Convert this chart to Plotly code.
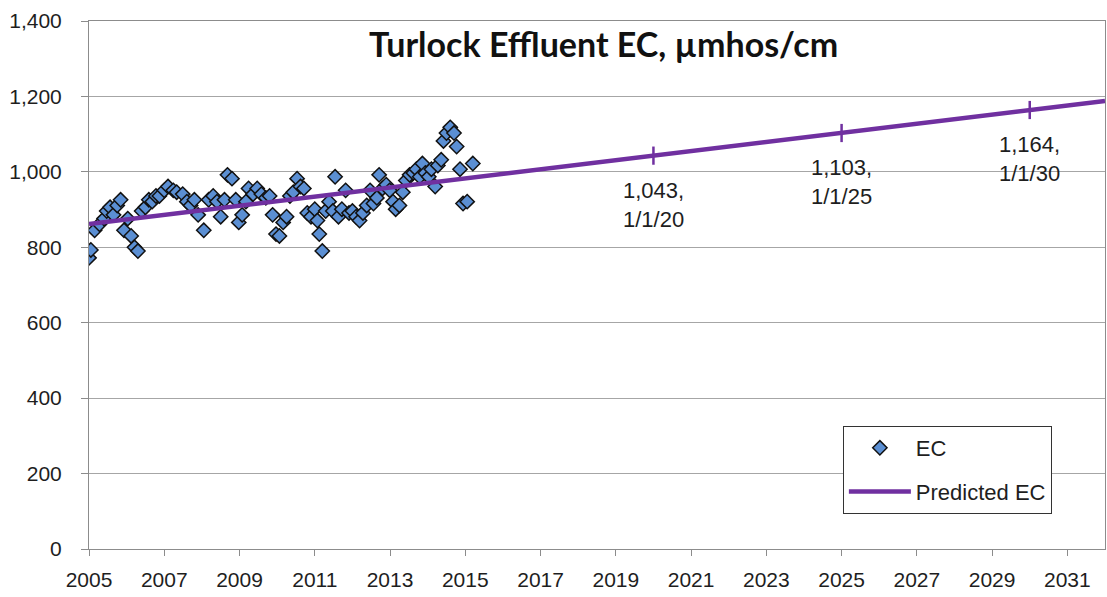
import plotly.graph_objects as go

# Observed EC (decimal year, µmhos/cm)
ec_years = [2005.0, 2005.05, 2005.15, 2005.28, 2005.4, 2005.47, 2005.56, 2005.65, 2005.75, 2005.84,
            2005.93, 2006.03, 2006.12, 2006.21, 2006.3, 2006.4, 2006.5, 2006.59, 2006.68, 2006.78,
            2006.87, 2007.0, 2007.1, 2007.24, 2007.33, 2007.49, 2007.6, 2007.7, 2007.8, 2007.9,
            2008.05, 2008.18, 2008.3, 2008.4, 2008.5, 2008.6, 2008.68, 2008.8, 2008.9, 2008.98,
            2009.07, 2009.17, 2009.24, 2009.36, 2009.47, 2009.58, 2009.7, 2009.8, 2009.88, 2009.97,
            2010.06, 2010.16, 2010.25, 2010.34, 2010.43, 2010.53, 2010.62, 2010.71, 2010.8, 2010.9,
            2011.0, 2011.07, 2011.12, 2011.2, 2011.29, 2011.38, 2011.48, 2011.54, 2011.63, 2011.72,
            2011.82, 2011.91, 2012.0, 2012.1, 2012.19, 2012.28, 2012.38, 2012.47, 2012.56, 2012.65,
            2012.71, 2012.8, 2012.9, 2012.99, 2013.08, 2013.15, 2013.25, 2013.34, 2013.42, 2013.52,
            2013.62, 2013.7, 2013.79, 2013.86, 2013.94, 2014.03, 2014.1, 2014.2, 2014.27, 2014.36,
            2014.42, 2014.5, 2014.6, 2014.7, 2014.77, 2014.86, 2014.94, 2015.05, 2015.2]
ec_values = [772, 793, 845, 861, 876, 896, 906, 886, 911, 926,
             845, 876, 830, 800, 790, 896, 906, 926, 921, 936,
             936, 951, 961, 951, 946, 941, 921, 911, 926, 886,
             845, 926, 936, 921, 881, 926, 992, 982, 926, 866,
             886, 921, 956, 941, 956, 941, 931, 936, 886, 835,
             830, 866, 881, 936, 946, 982, 961, 956, 891, 881,
             901, 871, 835, 790, 896, 921, 896, 987, 881, 901,
             951, 891, 896, 881, 871, 891, 911, 951, 916, 931,
             992, 956, 966, 951, 921, 901, 911, 946, 977, 992,
             997, 1007, 987, 1022, 997, 987, 1007, 961, 1017, 1032,
             1082, 1103, 1118, 1103, 1067, 1007, 916, 921, 1022]

# Predicted EC trend
pred_years = [2005, 2020, 2025, 2030, 2032]
pred_values = [862, 1043, 1103, 1164, 1188]
label_years = [2020, 2025, 2030]
label_values = [1043, 1103, 1164]

x_ticks = list(range(2005, 2032, 2))
y_ticks = [0, 200, 400, 600, 800, 1000, 1200, 1400]

PURPLE = "#7030A0"
BLUE = "#5B8FD3"
GRID = "#A6A6A6"
AXIS = "#8C8C8C"
FONT = "Liberation Sans, Arial, sans-serif"
TXT = "#1E1E1E"

fig = go.Figure()
fig.add_trace(go.Scatter(
    x=ec_years, y=ec_values, mode="markers", name="EC", legendgroup="a",
    marker=dict(symbol="diamond", size=11, color=BLUE, line=dict(color="#111111", width=1.5)),
))
fig.add_trace(go.Scatter(
    x=pred_years, y=pred_values, mode="lines", name="Predicted EC", legendgroup="b",
    line=dict(color=PURPLE, width=4.5),
))
fig.add_trace(go.Scatter(
    x=label_years, y=label_values, mode="markers", showlegend=False,
    marker=dict(symbol="line-ns", size=13, line=dict(color=PURPLE, width=2.5)),
))

for yr, v in zip(label_years, label_values):
    fig.add_annotation(
        x=yr, y=v, xref="x", yref="y", showarrow=False,
        text=f"{v:,},<br>1/1/{yr % 100:02d}", yanchor="top", xanchor="center",
        yshift=-20, font=dict(family=FONT, size=22, color=TXT), align="center",
    )

fig.add_annotation(
    x=0.506, y=0.958, xref="paper", yref="paper", showarrow=False,
    text="<b>Turlock Effluent EC, µmhos/cm</b>",
    font=dict(family="Lato, Open Sans, sans-serif", size=34, color="#111111"),
    xanchor="center", yanchor="middle",
)

fig.update_layout(
    width=1107, height=597,
    margin=dict(l=89, r=2, t=21, b=48),
    paper_bgcolor="white", plot_bgcolor="white",
    font=dict(family=FONT, size=21, color=TXT),
    showlegend=True,
    legend=dict(
        x=0.742, y=0.233, xanchor="left", yanchor="top",
        bordercolor="#333333", borderwidth=1, bgcolor="white",
        font=dict(family=FONT, size=22, color=TXT),
        traceorder="grouped", tracegroupgap=12, itemwidth=62,
    ),
    xaxis=dict(
        range=[2005, 2032], tickmode="array", tickvals=x_ticks,
        ticktext=[str(t) for t in x_ticks],
        showgrid=False, zeroline=False,
        showline=True, linecolor=AXIS, linewidth=1, mirror=True,
        ticks="outside", ticklen=6, tickcolor=AXIS,
        ticklabelstandoff=6,
        tickfont=dict(family=FONT, size=21, color=TXT),
    ),
    yaxis=dict(
        range=[0, 1400], tickmode="array", tickvals=y_ticks,
        ticktext=[f"{t:,}" for t in y_ticks],
        showgrid=True, gridcolor=GRID, gridwidth=1, zeroline=False,
        showline=True, linecolor=AXIS, linewidth=1, mirror=True,
        ticks="outside", ticklen=7, tickcolor=AXIS,
        ticklabelstandoff=15,
        tickfont=dict(family=FONT, size=21, color=TXT),
    ),
)

fig.write_html(
    "out.html",
    config={"displayModeBar": False},
    post_script="document.body.style.margin='0';document.body.style.overflow='hidden';",
)
